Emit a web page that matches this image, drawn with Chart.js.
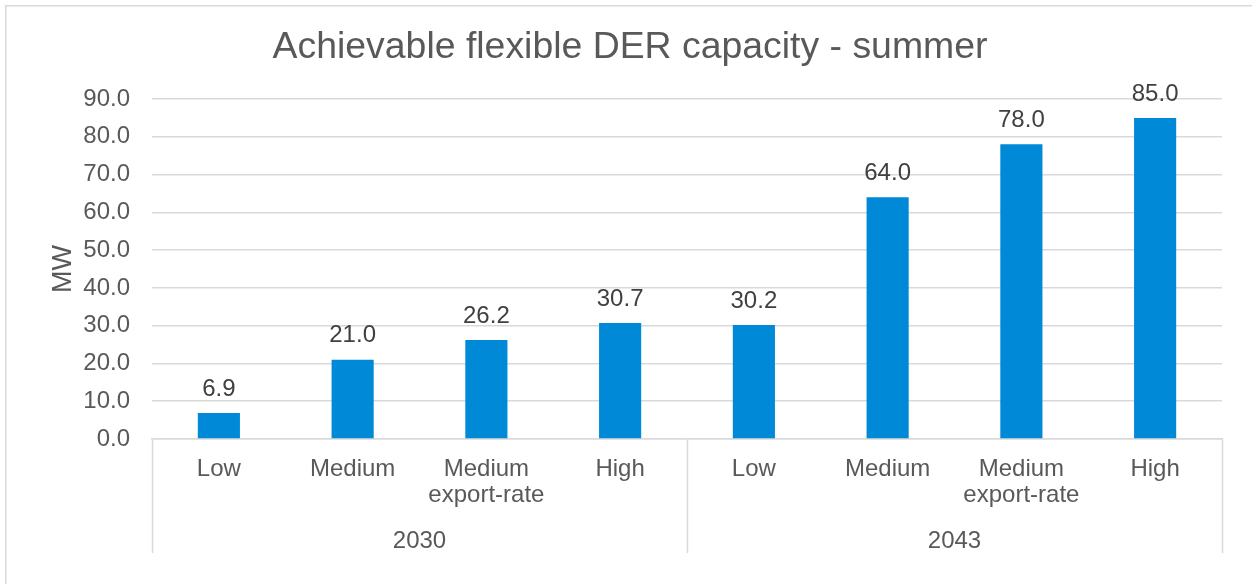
<!DOCTYPE html>
<html>
<head>
<meta charset="utf-8">
<script src="https://cdn.jsdelivr.net/npm/chart.js@4/dist/chart.umd.min.js"></script>
<style>
  html, body { margin: 0; padding: 0; background: #ffffff; }
  #wrap { width: 1252px; height: 584px; position: relative; }
</style>
</head>
<body>
<div id="wrap"><canvas id="chart" width="1252" height="584"></canvas></div>
<script>
// Scenario labels (inner axis level) and year groups (outer axis level)
const scenarios = [
  ["Low"], ["Medium"], ["Medium", "export-rate"], ["High"],
  ["Low"], ["Medium"], ["Medium", "export-rate"], ["High"]
];
const years = ["2030", "2043"];
const scenariosPerYear = 4;

// Achievable flexible DER capacity, MW
const capacityMW = [6.9, 21.0, 26.2, 30.7, 30.2, 64.0, 78.0, 85.0];

// Y axis range
const yTicks = { min: 0, max: 90, step: 10 };

const chartTitle = "Achievable flexible DER capacity - summer";

const FONT = "'Liberation Sans', Arial, Helvetica, sans-serif";
const TEXT = "#595959";
const LINE = "#d9d9d9";
const BAR = "#0089d6";

// Frame, title, data labels and the grouped year level of the category axis
const decorations = {
  id: "decorations",
  beforeDraw(chart) {
    const ctx = chart.ctx;
    ctx.save();
    ctx.fillStyle = "#ffffff";
    ctx.fillRect(0, 0, chart.width, chart.height);
    ctx.strokeStyle = LINE;
    ctx.lineWidth = 1.5;
    ctx.strokeRect(5.75, 5.75, chart.width + 20, chart.height + 20);
    ctx.font = "37.4px " + FONT;
    ctx.fillStyle = TEXT;
    ctx.textAlign = "center";
    ctx.textBaseline = "middle";
    ctx.fillText(chartTitle, 630, 48);
    ctx.restore();
  },
  afterDatasetsDraw(chart) {
    const ctx = chart.ctx;
    const meta = chart.getDatasetMeta(0);
    ctx.save();
    ctx.font = "24px " + FONT;
    ctx.fillStyle = "#404040";
    ctx.textAlign = "center";
    ctx.textBaseline = "middle";
    meta.data.forEach((bar, i) => {
      ctx.fillText(capacityMW[i].toFixed(1), bar.x, bar.y - 24);
    });
    ctx.restore();
  },
  afterDraw(chart) {
    const ctx = chart.ctx;
    const x = chart.scales.x;
    const area = chart.chartArea;
    const half = (x.getPixelForValue(1) - x.getPixelForValue(0)) / 2;
    const top = area.bottom;
    const bottom = 553;
    ctx.save();
    ctx.strokeStyle = LINE;
    ctx.lineWidth = 1.5;
    const edges = [area.left];
    years.forEach((y, g) => {
      const last = (g + 1) * scenariosPerYear - 1;
      edges.push(x.getPixelForValue(last) + half);
    });
    edges.forEach(px => {
      const p = Math.round(px) + 0.5;
      ctx.beginPath();
      ctx.moveTo(p, top);
      ctx.lineTo(p, bottom);
      ctx.stroke();
    });
    ctx.font = "24px " + FONT;
    ctx.fillStyle = TEXT;
    ctx.textAlign = "center";
    ctx.textBaseline = "middle";
    years.forEach((y, g) => {
      ctx.fillText(y, (edges[g] + edges[g + 1]) / 2, 541);
    });
    ctx.restore();
  }
};

new Chart(document.getElementById("chart"), {
  type: "bar",
  data: {
    labels: scenarios,
    datasets: [{
      data: capacityMW,
      backgroundColor: BAR,
      borderWidth: 0,
      categoryPercentage: 1,
      barPercentage: 0.315
    }]
  },
  options: {
    responsive: false,
    animation: false,
    layout: { padding: { left: 0, right: 30, top: 99, bottom: 0 } },
    plugins: {
      legend: { display: false },
      tooltip: { enabled: false },
      title: { display: false }
    },
    scales: {
      x: {
        grid: { display: false },
        border: { display: true, color: LINE, width: 1.5 },
        ticks: {
          color: TEXT,
          font: { family: FONT, size: 24, lineHeight: 1.1 },
          padding: 9,
          maxRotation: 0,
          autoSkip: false
        },
        afterFit(scale) { scale.height = 145; }
      },
      y: {
        min: yTicks.min,
        max: yTicks.max,
        border: { display: false },
        grid: { color: LINE, lineWidth: 1.5, drawTicks: false },
        ticks: {
          stepSize: yTicks.step,
          color: TEXT,
          font: { family: FONT, size: 24 },
          padding: 22,
          callback: v => Number(v).toFixed(1)
        },
        title: {
          display: true,
          text: "MW",
          color: TEXT,
          font: { family: FONT, size: 27, weight: "normal", lineHeight: 1.2 },
          padding: { top: 47, bottom: 0 }
        },
        afterFit(scale) { scale.width = 152; }
      }
    }
  },
  plugins: [decorations]
});
</script>
</body>
</html>
